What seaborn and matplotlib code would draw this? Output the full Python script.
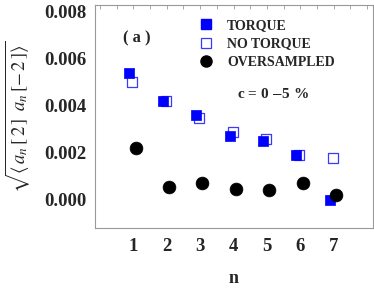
import numpy as np
import pandas as pd
import seaborn as sns
import matplotlib
matplotlib.use('Agg')
import matplotlib.pyplot as plt
from matplotlib.ticker import MultipleLocator
from matplotlib.lines import Line2D

n = [1, 2, 3, 4, 5, 6, 7]
torque = [0.0054, 0.0042, 0.0036, 0.0027, 0.0025, 0.0019, 0.0000]
no_torque = [0.0050, 0.0042, 0.0035, 0.0029, 0.0026, 0.0019, 0.0018]
oversampled = [0.0022, 0.00055, 0.00072, 0.00047, 0.00042, 0.00070, 0.00022]

sns.set_style('white')
plt.rcParams['font.family'] = ['Liberation Serif', 'DejaVu Serif']
plt.rcParams['mathtext.fontset'] = 'stix'

df = pd.DataFrame({'n': n, 'torque': torque, 'no_torque': no_torque, 'over': oversampled})

fig = plt.figure(figsize=(3.74, 2.90), dpi=100)
ax = fig.add_axes([0.254, 0.214, 0.743, 0.769])

frame = '#999999'
# 小偏移避免点重叠
sns.scatterplot(x=df['n'] - 0.12, y=df['torque'], ax=ax, marker='s', s=55,
                color='#0000ff', edgecolor='#0000ff', linewidth=0.5, zorder=3)
sns.scatterplot(x=df['n'] - 0.03, y=df['no_torque'], ax=ax, marker='s', s=52,
                facecolor='none', edgecolor='#3a3aff', linewidth=0.9, zorder=2)
sns.scatterplot(x=df['n'] + 0.07, y=df['over'], ax=ax, marker='o', s=85,
                color='black', edgecolor='black', linewidth=0.5, zorder=4)

ax.set_xlim(-0.145, 8.17)
ax.set_ylim(-0.0012, 0.0083)
ax.set_xticks(n)
ax.set_yticks([0.0, 0.002, 0.004, 0.006, 0.008])
ax.set_yticklabels(['0.000', '0.002', '0.004', '0.006', '0.008'])
ax.yaxis.set_minor_locator(MultipleLocator(0.0005))
ax.tick_params(axis='y', which='major', direction='in', length=4, width=0.6,
               color=frame, labelsize=13.5, pad=6)
ax.tick_params(axis='y', which='minor', direction='in', length=2.5, width=0.6, color=frame)
ax.tick_params(axis='x', which='major', direction='in', length=4, width=0.6,
               color=frame, labelsize=13.5, pad=7)
for lab in ax.get_xticklabels() + ax.get_yticklabels():
    lab.set_fontweight('bold')

top = ax.secondary_xaxis('top')
top.set_xticks(np.arange(0, 8.5, 0.5))
top.tick_params(direction='in', length=3, width=0.6, color=frame, labeltop=False)
top.spines['top'].set_visible(False)

for sp in ax.spines.values():
    sp.set_color(frame)
    sp.set_linewidth(0.8)

ax.set_xlabel('n', fontsize=13, fontweight='bold', labelpad=11)
ax.set_ylabel(r'$\sqrt{\langle\,a_n\,[\,2\,]\;\;a_n\,[-\,2\,]\rangle}$', fontsize=13.5, labelpad=9)

handles = [
    Line2D([], [], ls='none', marker='s', ms=6.5, color='#0000ff', mec='#0000ff'),
    Line2D([], [], ls='none', marker='s', ms=6.5, mfc='none', mec='#3a3aff', mew=0.9),
    Line2D([], [], ls='none', marker='o', ms=8, color='black'),
]
leg = ax.legend(handles, ['TORQUE', 'NO TORQUE', 'OVERSAMPLED'], loc='upper left',
                bbox_to_anchor=(0.345, 0.98), frameon=False, handlelength=0.8,
                handletextpad=1.1, labelspacing=0.38, borderaxespad=0.3,
                prop={'family': 'Liberation Serif', 'weight': 'bold', 'size': 10})

ax.text(0.15, 0.85, '( a )', transform=ax.transAxes, fontsize=12, fontweight='bold',
        ha='center', va='center')
ax.text(0.64, 0.6, r'c = 0 $-$5 %', transform=ax.transAxes, fontsize=11, fontweight='bold',
        ha='center', va='center')

fig.savefig('out.png', dpi=100)
